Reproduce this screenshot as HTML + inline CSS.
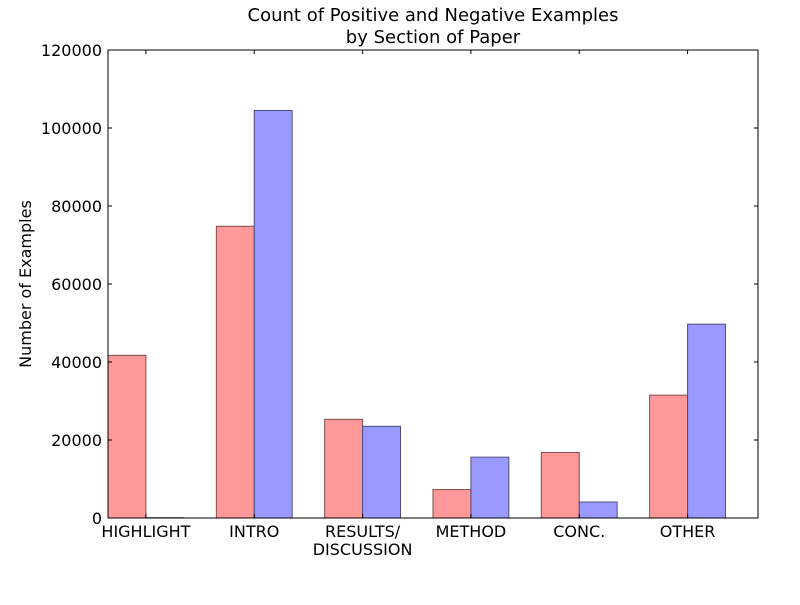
<!DOCTYPE html>
<html><head><meta charset="utf-8"><style>
body{margin:0;background:#fff;}
svg text{font-family:"DejaVu Sans","Liberation Sans",sans-serif;}
</style></head><body>
<svg id="chart" width="800" height="600" xmlns="http://www.w3.org/2000/svg">
<rect width="800" height="600" fill="#fff"/>
<text x="433" y="21" font-size="18" text-anchor="middle">Count of Positive and Negative Examples</text>
<text x="433" y="43" font-size="18" text-anchor="middle">by Section of Paper</text>
<text transform="translate(31,284) rotate(-90)" font-size="16" text-anchor="middle">Number of Examples</text>
<g id="bars"></g>
<g id="axes"></g>
</svg>
<script>
const categories=["HIGHLIGHT","INTRO","RESULTS/\nDISCUSSION","METHOD","CONC.","OTHER"];
const positiveValues=[41700,74800,25300,7300,16800,31500];
const negativeValues=[80,104500,23500,15600,4100,49700];
const yTicks=[0,20000,40000,60000,80000,100000,120000];
const X0=108,X1=758,Y0=518,Y1=50,XMAX=6,YMAX=120000,BW=0.35;
const sx=v=>X0+(X1-X0)*v/XMAX;
const sy=v=>Y0-(Y0-Y1)*v/YMAX;
const NS="http://www.w3.org/2000/svg";
const bars=document.getElementById('bars'),axes=document.getElementById('axes');
function mk(tag,attrs,parent){const e=document.createElementNS(NS,tag);for(const k in attrs)e.setAttribute(k,attrs[k]);parent.appendChild(e);return e;}
categories.forEach((c,i)=>{
  const r=mk('rect',{x:sx(i),y:sy(positiveValues[i]),width:sx(BW)-sx(0),height:Y0-sy(positiveValues[i]),fill:'#ff9999',stroke:'#7f4c4c','stroke-width':1},bars);
  
  
  const b=mk('rect',{x:sx(i+BW),y:sy(negativeValues[i]),width:sx(BW)-sx(0),height:Y0-sy(negativeValues[i]),fill:'#9999ff',stroke:'#4c4c7f','stroke-width':1},bars);
  
  
  const tx=sx(i+BW);
  mk('line',{x1:tx,x2:tx,y1:Y0,y2:Y0-4,stroke:'#000'},axes);
  mk('line',{x1:tx,x2:tx,y1:Y1,y2:Y1+4,stroke:'#000'},axes);
  c.split('\n').forEach((ln,j)=>{
    const t=mk('text',{x:tx,y:537+j*18,'font-size':16,'text-anchor':'middle'},axes);
    t.textContent=ln;
    
    
  });
});
yTicks.forEach(v=>{
  const y=sy(v);
  mk('line',{x1:X0,x2:X0+4,y1:y,y2:y,stroke:'#000'},axes);
  mk('line',{x1:X1,x2:X1-4,y1:y,y2:y,stroke:'#000'},axes);
  const t=mk('text',{x:X0-6,y:y+6,'font-size':16,'text-anchor':'end'},axes);
  t.textContent=v;
  
  
});
const f=mk('rect',{x:X0,y:Y1,width:X1-X0,height:Y0-Y1,fill:'none',stroke:'#000','stroke-width':1},axes);


</script>
</body></html>
